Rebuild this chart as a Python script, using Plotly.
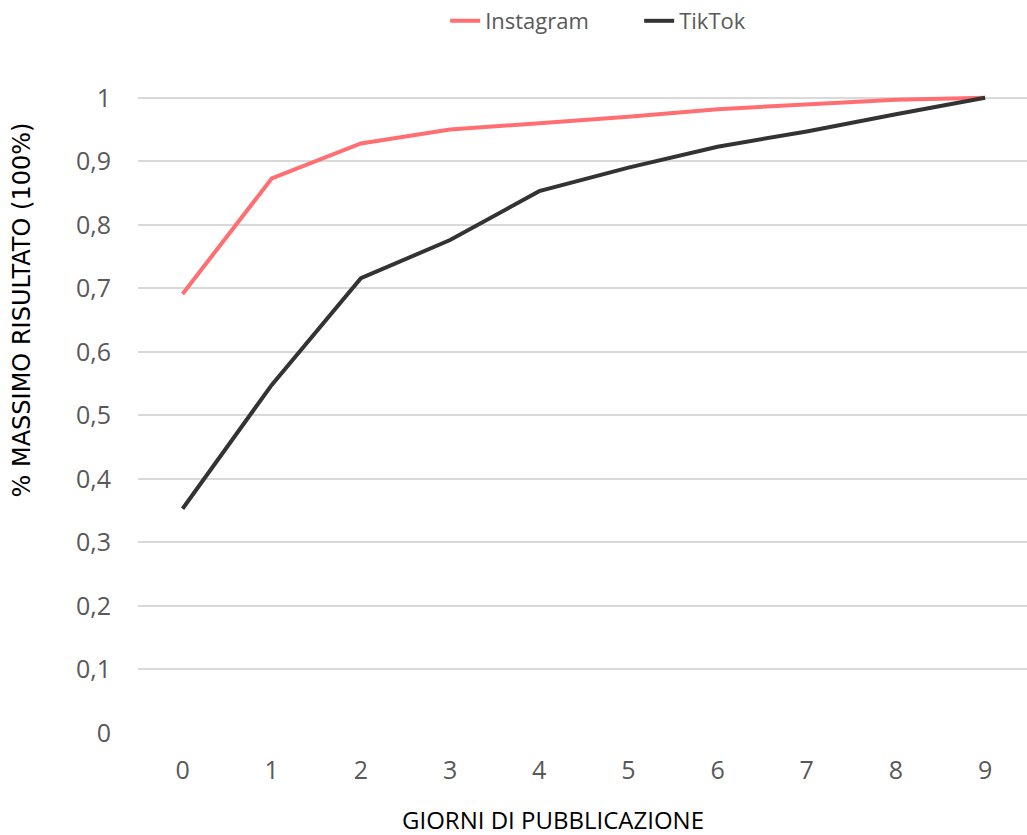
import plotly.graph_objects as go

days = [0, 1, 2, 3, 4, 5, 6, 7, 8, 9]
instagram = [0.691, 0.873, 0.928, 0.950, 0.960, 0.970, 0.982, 0.990, 0.997, 1.0]
tiktok = [0.353, 0.548, 0.716, 0.776, 0.853, 0.890, 0.923, 0.947, 0.974, 1.0]

y_tickvals = [0, 0.1, 0.2, 0.3, 0.4, 0.5, 0.6, 0.7, 0.8, 0.9, 1.0]
y_ticktext = ["0", "0,1", "0,2", "0,3", "0,4", "0,5", "0,6", "0,7", "0,8", "0,9", "1"]

fig = go.Figure()
fig.add_trace(go.Scatter(x=days, y=instagram, name="Instagram", mode="lines",
                         line=dict(color="#FF6F72", width=4), cliponaxis=False))
fig.add_trace(go.Scatter(x=days, y=tiktok, name="TikTok", mode="lines",
                         line=dict(color="#333333", width=4), cliponaxis=False))

fig.update_layout(
    width=1027, height=835,
    margin=dict(l=138, r=0, t=66, b=102),
    plot_bgcolor="white", paper_bgcolor="white",
    font=dict(family="Open Sans, Noto Sans, sans-serif", color="#595959"),
    legend=dict(orientation="h", x=0.3455, xanchor="left", y=1.0, yref="container",
                yanchor="top", font=dict(size=22, color="#595959"),
                entrywidth=149, tracegroupgap=0),
    showlegend=True,
    annotations=[
        dict(text="GIORNI DI PUBBLICAZIONE", xref="paper", yref="paper",
             x=0.467, y=-0.130, xanchor="center", yanchor="middle", showarrow=False,
             font=dict(size=24, color="#000000", family="Open Sans, sans-serif")),
        dict(text="% MASSIMO RISULTATO (100%)", xref="paper", yref="paper",
             x=-0.1305, y=0.635, xanchor="center", yanchor="middle", showarrow=False,
             textangle=-90,
             font=dict(size=24, color="#000000", family="DejaVu Sans, sans-serif")),
    ],
)
fig.update_xaxes(
    tickmode="array", tickvals=days, ticktext=[str(d) for d in days],
    range=[-0.5, 9.47], showgrid=False, zeroline=False, showline=False,
    ticks="", ticklabelstandoff=20,
    tickfont=dict(size=25, color="#595959"),
)
fig.update_yaxes(
    tickmode="array", tickvals=y_tickvals, ticktext=y_ticktext,
    range=[0, 1.05], showgrid=True, gridcolor="#D9D9D9", gridwidth=1.5,
    zeroline=False, showline=False, ticks="", ticklabelstandoff=26,
    tickfont=dict(size=25, color="#595959"),
)

fig.write_html("out.html")
